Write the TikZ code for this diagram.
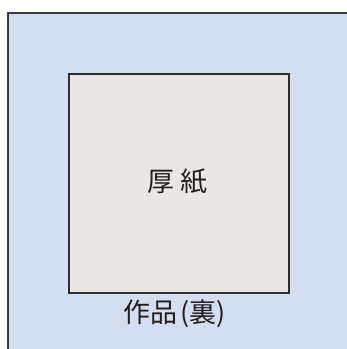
\documentclass[tikz,border=0pt]{standalone}
\usepackage{fontspec}
\newfontfamily\cjk{Noto Sans CJK JP}
\definecolor{bgblue}{HTML}{D3DEF0}
\definecolor{board}{HTML}{E9E6E3}
\definecolor{edge}{HTML}{3A3A3A}
\definecolor{ink}{HTML}{231F20}
\begin{document}
\begin{tikzpicture}[x=1pt,y=1pt,
  lbl/.style={font=\cjk\fontsize{27}{27}\selectfont, text=ink, inner sep=0pt}]
\useasboundingbox (0,0) rectangle (347,349);
\clip (0,0) rectangle (347,349);
\node[draw=edge, line width=1.8pt, fill=bgblue, minimum width=352pt, minimum height=349pt, anchor=north west, inner sep=0pt] (work) at (7,337) {};
\node[draw=edge!80!black, line width=1.7pt, fill=board, minimum width=220pt, minimum height=219pt, anchor=north west, inner sep=0pt] (card) at (68,276) {};
\node[lbl] (cardlbl) at (177.5,167.5) {厚\hspace{7pt}紙};
\node[lbl] (worklbl) at (175,35) {作品\hspace{3pt}(裏)};
\end{tikzpicture}
\end{document}
